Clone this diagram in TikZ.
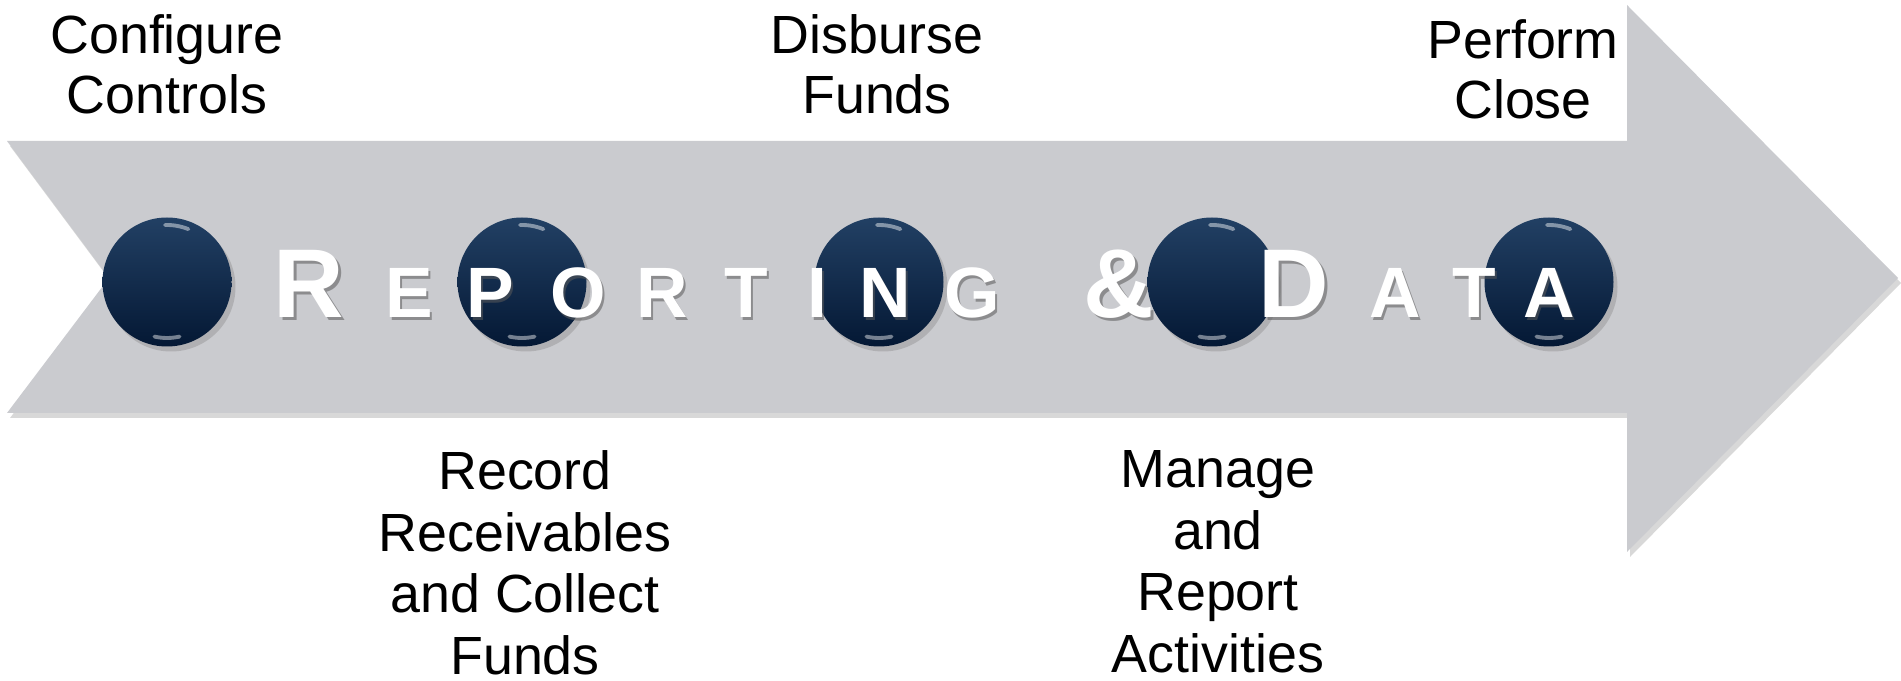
\documentclass[tikz,border=0pt]{standalone}
\usepackage{fontspec}
\setmainfont{Liberation Sans}
\usetikzlibrary{shadows}

\definecolor{arrowgray}{RGB}{202,203,207}
\definecolor{navytop}{RGB}{34,64,100}
\definecolor{navybot}{RGB}{4,24,52}
\definecolor{shadowgray}{RGB}{90,90,90}

\tikzset{
  stepdot/.style={circle, minimum size=1.29cm, inner sep=0pt,
    top color=navytop, bottom color=navybot,
    drop shadow={shadow xshift=0.04cm, shadow yshift=-0.05cm, opacity=0.35}},
  glint/.style={white, opacity=0.45, line width=1.1pt, line cap=round},
  biglet/.style={text=white, font=\bfseries\fontsize{27.8}{28}\selectfont, anchor=base, inner sep=0pt},
  smalllet/.style={text=white, font=\bfseries\fontsize{20.3}{21}\selectfont, anchor=base, inner sep=0pt},
  letshadow/.style={text=shadowgray, opacity=0.55},
  steplabel/.style={align=center, anchor=north, inner sep=0pt, font=\fontsize{15.3}{#1}\selectfont},
  steplabel/.default=17.5
}

\begin{document}
\begin{tikzpicture}
\path[use as bounding box, fill=white] (0,0) rectangle (19.01,6.81);

% the big arrow
\fill[arrowgray, drop shadow={shadow xshift=0.03cm, shadow yshift=-0.05cm, opacity=0.3}]
  (0.07,5.40) -- (16.27,5.40) -- (16.27,6.76) -- (18.98,4.03) -- (16.27,1.29)
  -- (16.27,2.68) -- (0.07,2.68) -- (1.09,4.03) -- cycle;

% the ampersand sits under the fourth dot
\node[biglet, letshadow] at (11.215,3.605) {\&};
\node[biglet] (amp) at (11.19,3.63) {\&};

% dots
\foreach \x [count=\i] in {1.67, 5.22, 8.79, 12.12, 15.49} {
  \node[stepdot] (dot\i) at (\x,3.99) {};
  \draw[glint] ([shift={(68:0.57)}]dot\i.center) arc (68:92:0.57);
  \draw[glint] ([shift={(257:0.56)}]dot\i.center) arc (257:283:0.56);
}

% R E P O R T I N G   D A T A
\foreach \x/\s/\c [count=\i] in {3.09/biglet/R, 4.09/smalllet/E, 4.90/smalllet/P,
    5.78/smalllet/O, 6.62/smalllet/R, 7.46/smalllet/T, 8.17/smalllet/I,
    8.85/smalllet/N, 9.72/smalllet/G, 12.94/biglet/D, 13.95/smalllet/A,
    14.74/smalllet/T, 15.49/smalllet/A} {
  \node[\s, letshadow] at (\x+0.025,3.605) {\c};
  \node[\s] (let\i) at (\x,3.63) {\c};
}

% step labels
\node[steplabel=16.9] (ctrl) at (1.67,6.67) {Configure\\Controls};
\node[steplabel=16.9] (disb) at (8.77,6.67) {Disburse\\Funds};
\node[steplabel=16.9] (close) at (15.23,6.62) {Perform\\Close};
\node[steplabel] (recv) at (5.25,2.31) {Record\\Receivables\\and Collect\\Funds};
\node[steplabel] (mgmt) at (12.18,2.31) {Manage\\and\\Report\\Activities};

\end{tikzpicture}
\end{document}
